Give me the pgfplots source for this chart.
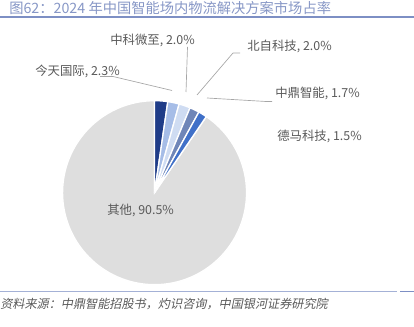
\documentclass[border=0pt]{standalone}
\usepackage{fontspec}
\setmainfont{Noto Sans CJK SC}
\newfontfamily\cjkit[FakeSlant=0.2]{Noto Sans CJK SC}
\usepackage{pgfplots}
\pgfplotsset{compat=1.18}
\definecolor{cA}{HTML}{1F3C88}
\definecolor{cB}{HTML}{A6BDE7}
\definecolor{cC}{HTML}{CFDCF2}
\definecolor{cD}{HTML}{6F86B8}
\definecolor{cE}{HTML}{4070C8}
\definecolor{cF}{HTML}{DEDEDE}
\definecolor{txt}{HTML}{595959}
\definecolor{ttl}{HTML}{8797C6}
\definecolor{rule}{HTML}{7D8FC4}
\definecolor{lead}{HTML}{A6A6A6}
% shares (%)
\def\pA{2.3}\def\pB{2.0}\def\pC{2.0}\def\pD{1.7}\def\pE{1.5}\def\pF{90.5}
\pgfmathsetmacro\aA{90}
\pgfmathsetmacro\aB{\aA-3.6*\pA}
\pgfmathsetmacro\aC{\aB-3.6*\pB}
\pgfmathsetmacro\aD{\aC-3.6*\pC}
\pgfmathsetmacro\aE{\aD-3.6*\pD}
\pgfmathsetmacro\aF{\aE-3.6*\pE}
\pgfmathsetmacro\aG{\aF-3.6*\pF}
\begin{document}
\begin{tikzpicture}[x=0.75pt,y=0.75pt]
\path[use as bounding box] (0,0) rectangle (414,327);
\begin{axis}[at={(168,146)}, anchor=center, scale only axis,
  width=138pt, height=138pt, xmin=-1, xmax=1, ymin=-1, ymax=1,
  hide axis, clip=false]
\addplot[fill=cF, draw=white, line width=1pt, domain=\aG:\aF, samples=120] ({cos(x)},{sin(x)}) -- (axis cs:0,0) -- cycle;
\addplot[fill=cA, draw=white, line width=1pt, domain=\aB:\aA, samples=12] ({cos(x)},{sin(x)}) -- (axis cs:0,0) -- cycle;
\addplot[fill=cB, draw=white, line width=1pt, domain=\aC:\aB, samples=12] ({cos(x)},{sin(x)}) -- (axis cs:0,0) -- cycle;
\addplot[fill=cC, draw=white, line width=1pt, domain=\aD:\aC, samples=12] ({cos(x)},{sin(x)}) -- (axis cs:0,0) -- cycle;
\addplot[fill=cD, draw=white, line width=1pt, domain=\aE:\aD, samples=12] ({cos(x)},{sin(x)}) -- (axis cs:0,0) -- cycle;
\addplot[fill=cE, draw=white, line width=1pt, domain=\aF:\aE, samples=12] ({cos(x)},{sin(x)}) -- (axis cs:0,0) -- cycle;
\end{axis}
% title and rules
\node[anchor=west, inner sep=0pt, text=ttl, font=\fontsize{10.7pt}{12pt}\selectfont] at (9,318.5) {图62：2024 年中国智能场内物流解决方案市场占率};
\draw[rule, line width=0.9pt] (0,310) -- (414,310);
\draw[rule!70, line width=0.8pt] (0,35.5) -- (397,35.5);
\draw[rule, line width=0.8pt] (400,35.5) -- (414,35.5);
\node[anchor=west, inner sep=0pt, text=txt, font=\cjkit\fontsize{9.1pt}{10pt}\selectfont] at (0,23) {资料来源：中鼎智能招股书，灼识咨询，中国银河证券研究院};
% leader lines
\draw[lead, line width=0.5pt] (100,250.5) -- (113,250.5) -- (172,236.5);
\draw[lead, line width=0.5pt] (187.5,280) -- (186,235);
\draw[lead, line width=0.5pt] (240,274) -- (233,274) -- (197,232);
\draw[lead, line width=0.5pt] (207,229) -- (266,225.5) -- (272,225.5);
% labels
\begin{scope}[every node/.style={inner sep=0pt, text=txt, font=\fontsize{9.3pt}{10pt}\selectfont}]
\node[anchor=east] at (120,256) {今天国际, 2.3\%};
\node at (152.5,287) {中科微至, 2.0\%};
\node[anchor=west] at (247,281) {北自科技, 2.0\%};
\node[anchor=west] at (275,234) {中鼎智能, 1.7\%};
\node[anchor=west] at (277,191) {德马科技, 1.5\%};
\node[anchor=west] at (107,117) {其他, 90.5\%};
\end{scope}
\end{tikzpicture}
\end{document}
